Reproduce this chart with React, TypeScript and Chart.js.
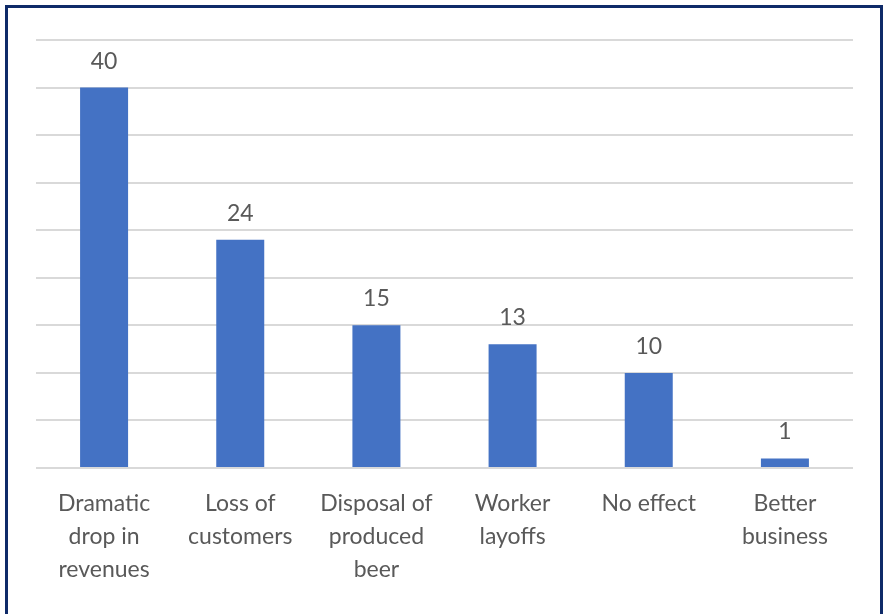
import React, { useEffect, useRef } from "react";
import { Chart, registerables } from "chart.js";

Chart.register(...registerables);

const categories: string[][] = [
  ["Dramatic", "drop in", "revenues"],
  ["Loss of", "customers"],
  ["Disposal of", "produced", "beer"],
  ["Worker", "layoffs"],
  ["No effect"],
  ["Better", "business"],
];
const values: number[] = [40, 24, 15, 13, 10, 1];
const yMax = 45;
const yStep = 5;

const FONT = "Lato, Carlito, 'Liberation Sans', sans-serif";
const TEXT = "#595959";

const labelPlugin = {
  id: "barValueLabels",
  afterDatasetsDraw(chart: any) {
    const ctx = chart.ctx;
    const meta = chart.getDatasetMeta(0);
    ctx.save();
    ctx.font = `23px ${FONT}`;
    ctx.fillStyle = TEXT;
    ctx.textAlign = "center";
    ctx.textBaseline = "alphabetic";
    meta.data.forEach((bar: any, i: number) => {
      ctx.fillText(String(values[i]), bar.x, bar.y - 19);
    });
    ctx.restore();
  },
};

export default function App() {
  const ref = useRef<HTMLCanvasElement | null>(null);
  useEffect(() => {
    if (!ref.current) return;
    const chart = new Chart(ref.current, {
      type: "bar",
      data: {
        labels: categories,
        datasets: [
          {
            data: values,
            backgroundColor: "#4472C4",
            barPercentage: 0.3525,
            categoryPercentage: 1,
          },
        ],
      },
      options: {
        animation: false,
        responsive: false,
        maintainAspectRatio: false,
        layout: { padding: { left: 36, right: 30, top: 40, bottom: 9 } },
        plugins: { legend: { display: false }, tooltip: { enabled: false } },
        scales: {
          x: {
            grid: { display: false, drawTicks: false },
            border: { display: false },
            ticks: {
              padding: 19,
              color: TEXT,
              maxRotation: 0,
              autoSkip: false,
              font: { family: FONT, size: 23, lineHeight: "33px" as any },
            },
          },
          y: {
            min: 0,
            max: yMax,
            border: { display: false },
            grid: { color: "#d9d9d9", lineWidth: 2, drawTicks: false },
            ticks: { display: false, stepSize: yStep },
          },
        },
      },
      plugins: [labelPlugin],
    });
    return () => chart.destroy();
  }, []);

  return (
    <div style={{ position: "fixed", left: 0, top: 0, width: 883, height: 614, background: "#fff", overflow: "hidden" }}>
      <canvas ref={ref} width={883} height={614} style={{ position: "absolute", left: 0, top: 0, width: 883, height: 614 }} />
      <div
        style={{
          position: "absolute",
          left: 5,
          top: 5,
          width: 878,
          height: 700,
          boxSizing: "border-box",
          border: "3px solid #0e2a68",
          borderBottom: "none",
          pointerEvents: "none",
        }}
      />
    </div>
  );
}
